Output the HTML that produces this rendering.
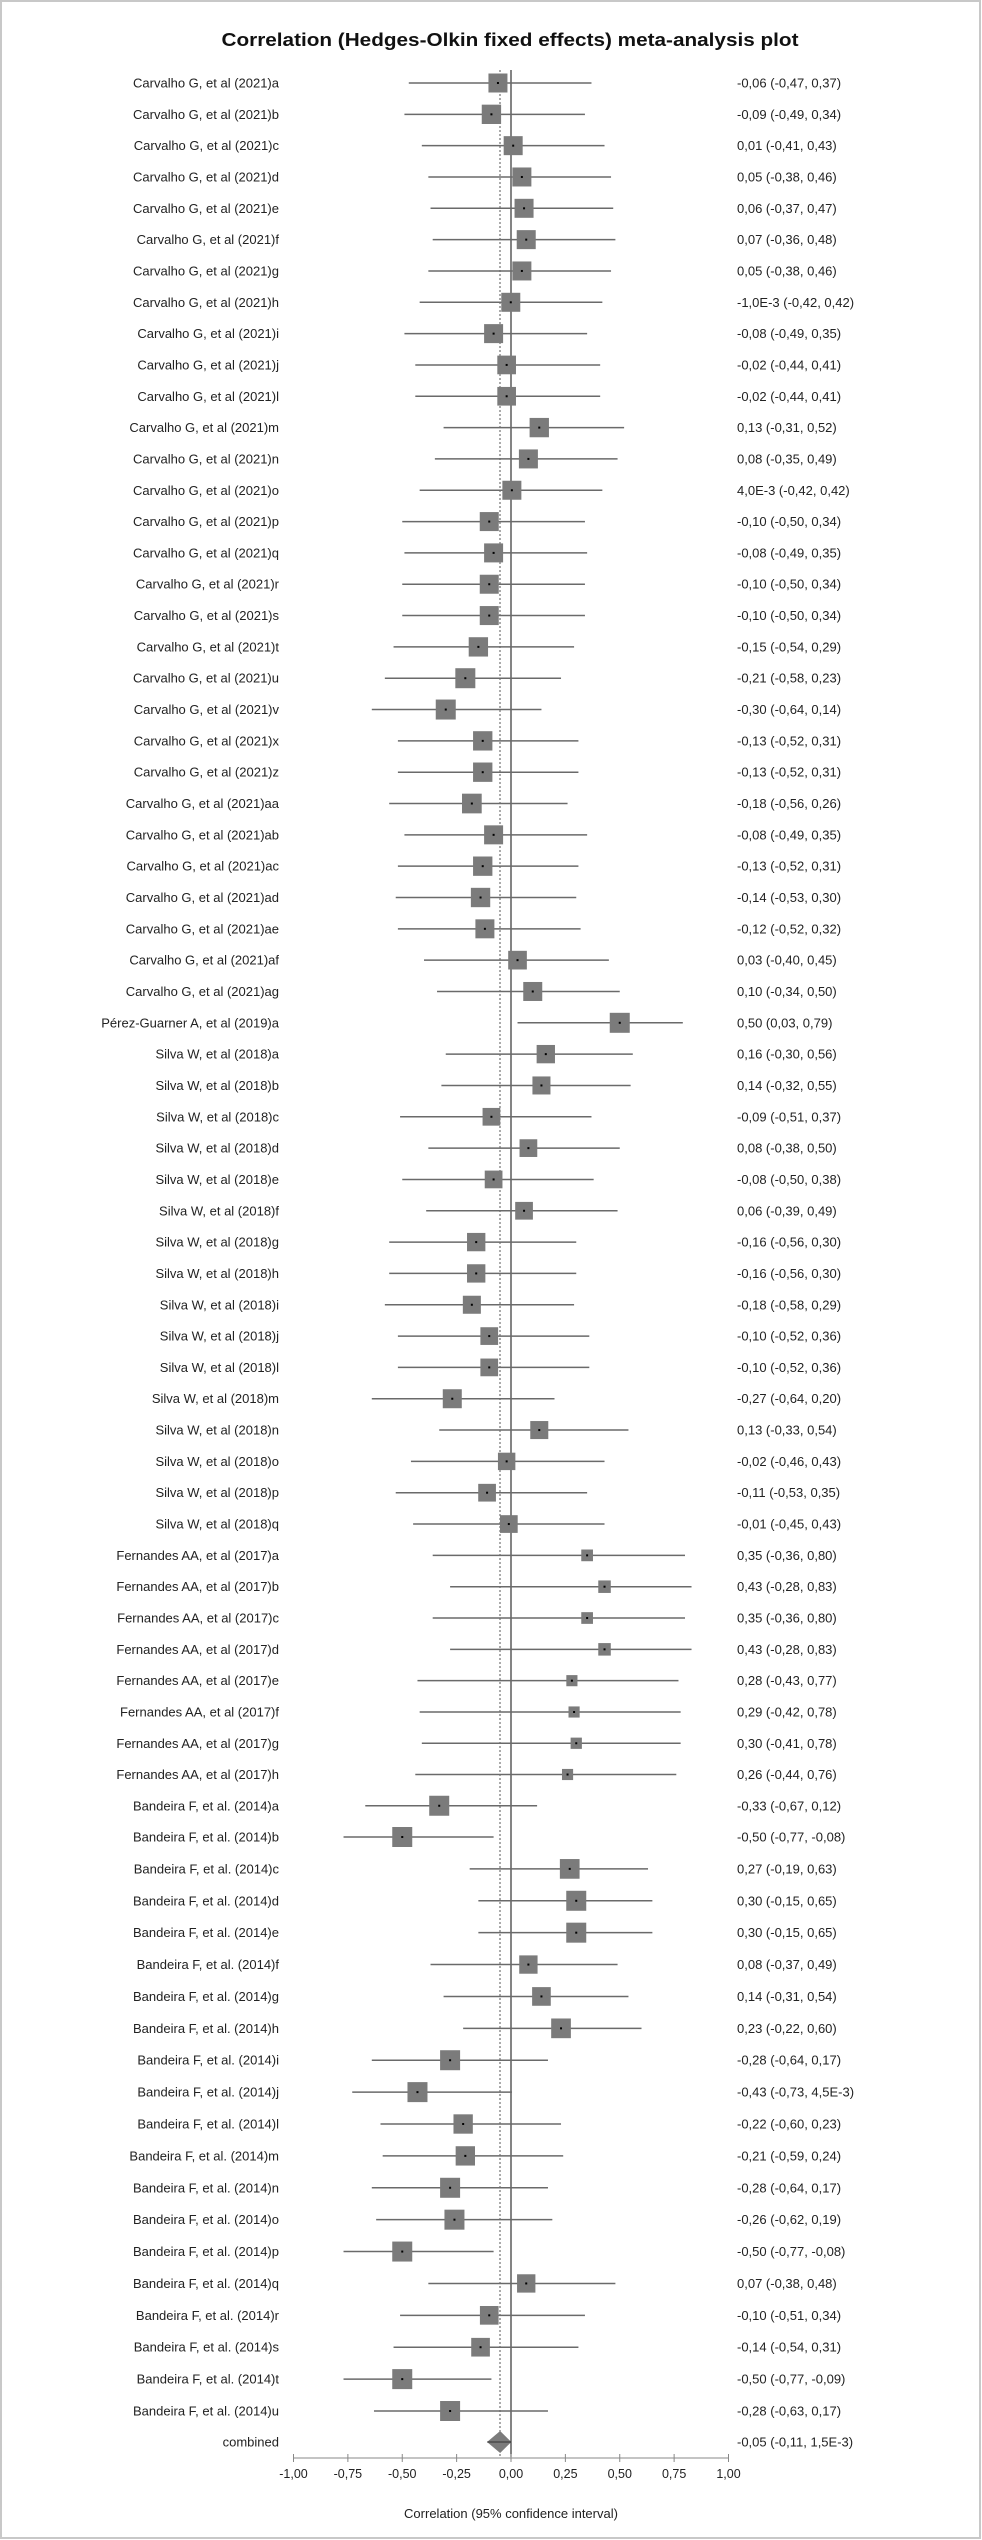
<!DOCTYPE html>
<html><head><meta charset="utf-8"><style>
html,body{margin:0;padding:0;background:#fff}
#c{position:relative;width:982px;height:2540px;overflow:hidden}
svg text{font-family:"Liberation Sans",sans-serif}
</style></head><body><div id="c">
<svg id="s" width="982" height="2540" xmlns="http://www.w3.org/2000/svg">
<rect x="1" y="1" width="979" height="2537" fill="#fff" stroke="#c8c8c8" stroke-width="2"/>
<text x="510" y="46" text-anchor="middle" font-size="18" font-weight="bold" fill="#111" textLength="577" lengthAdjust="spacingAndGlyphs">Correlation (Hedges-Olkin fixed effects) meta-analysis plot</text>
</svg></div>
<script>
var D=[
["Carvalho G, et al (2021)a",-0.06,-0.47,0.37,"-0,06 (-0,47, 0,37)"],
["Carvalho G, et al (2021)b",-0.09,-0.49,0.34,"-0,09 (-0,49, 0,34)"],
["Carvalho G, et al (2021)c",0.01,-0.41,0.43,"0,01 (-0,41, 0,43)"],
["Carvalho G, et al (2021)d",0.05,-0.38,0.46,"0,05 (-0,38, 0,46)"],
["Carvalho G, et al (2021)e",0.06,-0.37,0.47,"0,06 (-0,37, 0,47)"],
["Carvalho G, et al (2021)f",0.07,-0.36,0.48,"0,07 (-0,36, 0,48)"],
["Carvalho G, et al (2021)g",0.05,-0.38,0.46,"0,05 (-0,38, 0,46)"],
["Carvalho G, et al (2021)h",-0.001,-0.42,0.42,"-1,0E-3 (-0,42, 0,42)"],
["Carvalho G, et al (2021)i",-0.08,-0.49,0.35,"-0,08 (-0,49, 0,35)"],
["Carvalho G, et al (2021)j",-0.02,-0.44,0.41,"-0,02 (-0,44, 0,41)"],
["Carvalho G, et al (2021)l",-0.02,-0.44,0.41,"-0,02 (-0,44, 0,41)"],
["Carvalho G, et al (2021)m",0.13,-0.31,0.52,"0,13 (-0,31, 0,52)"],
["Carvalho G, et al (2021)n",0.08,-0.35,0.49,"0,08 (-0,35, 0,49)"],
["Carvalho G, et al (2021)o",0.004,-0.42,0.42,"4,0E-3 (-0,42, 0,42)"],
["Carvalho G, et al (2021)p",-0.10,-0.50,0.34,"-0,10 (-0,50, 0,34)"],
["Carvalho G, et al (2021)q",-0.08,-0.49,0.35,"-0,08 (-0,49, 0,35)"],
["Carvalho G, et al (2021)r",-0.10,-0.50,0.34,"-0,10 (-0,50, 0,34)"],
["Carvalho G, et al (2021)s",-0.10,-0.50,0.34,"-0,10 (-0,50, 0,34)"],
["Carvalho G, et al (2021)t",-0.15,-0.54,0.29,"-0,15 (-0,54, 0,29)"],
["Carvalho G, et al (2021)u",-0.21,-0.58,0.23,"-0,21 (-0,58, 0,23)"],
["Carvalho G, et al (2021)v",-0.30,-0.64,0.14,"-0,30 (-0,64, 0,14)"],
["Carvalho G, et al (2021)x",-0.13,-0.52,0.31,"-0,13 (-0,52, 0,31)"],
["Carvalho G, et al (2021)z",-0.13,-0.52,0.31,"-0,13 (-0,52, 0,31)"],
["Carvalho G, et al (2021)aa",-0.18,-0.56,0.26,"-0,18 (-0,56, 0,26)"],
["Carvalho G, et al (2021)ab",-0.08,-0.49,0.35,"-0,08 (-0,49, 0,35)"],
["Carvalho G, et al (2021)ac",-0.13,-0.52,0.31,"-0,13 (-0,52, 0,31)"],
["Carvalho G, et al (2021)ad",-0.14,-0.53,0.30,"-0,14 (-0,53, 0,30)"],
["Carvalho G, et al (2021)ae",-0.12,-0.52,0.32,"-0,12 (-0,52, 0,32)"],
["Carvalho G, et al (2021)af",0.03,-0.40,0.45,"0,03 (-0,40, 0,45)"],
["Carvalho G, et al (2021)ag",0.10,-0.34,0.50,"0,10 (-0,34, 0,50)"],
["Pérez-Guarner A, et al (2019)a",0.50,0.03,0.79,"0,50 (0,03, 0,79)"],
["Silva W, et al (2018)a",0.16,-0.30,0.56,"0,16 (-0,30, 0,56)"],
["Silva W, et al (2018)b",0.14,-0.32,0.55,"0,14 (-0,32, 0,55)"],
["Silva W, et al (2018)c",-0.09,-0.51,0.37,"-0,09 (-0,51, 0,37)"],
["Silva W, et al (2018)d",0.08,-0.38,0.50,"0,08 (-0,38, 0,50)"],
["Silva W, et al (2018)e",-0.08,-0.50,0.38,"-0,08 (-0,50, 0,38)"],
["Silva W, et al (2018)f",0.06,-0.39,0.49,"0,06 (-0,39, 0,49)"],
["Silva W, et al (2018)g",-0.16,-0.56,0.30,"-0,16 (-0,56, 0,30)"],
["Silva W, et al (2018)h",-0.16,-0.56,0.30,"-0,16 (-0,56, 0,30)"],
["Silva W, et al (2018)i",-0.18,-0.58,0.29,"-0,18 (-0,58, 0,29)"],
["Silva W, et al (2018)j",-0.10,-0.52,0.36,"-0,10 (-0,52, 0,36)"],
["Silva W, et al (2018)l",-0.10,-0.52,0.36,"-0,10 (-0,52, 0,36)"],
["Silva W, et al (2018)m",-0.27,-0.64,0.20,"-0,27 (-0,64, 0,20)"],
["Silva W, et al (2018)n",0.13,-0.33,0.54,"0,13 (-0,33, 0,54)"],
["Silva W, et al (2018)o",-0.02,-0.46,0.43,"-0,02 (-0,46, 0,43)"],
["Silva W, et al (2018)p",-0.11,-0.53,0.35,"-0,11 (-0,53, 0,35)"],
["Silva W, et al (2018)q",-0.01,-0.45,0.43,"-0,01 (-0,45, 0,43)"],
["Fernandes AA, et al (2017)a",0.35,-0.36,0.80,"0,35 (-0,36, 0,80)"],
["Fernandes AA, et al (2017)b",0.43,-0.28,0.83,"0,43 (-0,28, 0,83)"],
["Fernandes AA, et al (2017)c",0.35,-0.36,0.80,"0,35 (-0,36, 0,80)"],
["Fernandes AA, et al (2017)d",0.43,-0.28,0.83,"0,43 (-0,28, 0,83)"],
["Fernandes AA, et al (2017)e",0.28,-0.43,0.77,"0,28 (-0,43, 0,77)"],
["Fernandes AA, et al (2017)f",0.29,-0.42,0.78,"0,29 (-0,42, 0,78)"],
["Fernandes AA, et al (2017)g",0.30,-0.41,0.78,"0,30 (-0,41, 0,78)"],
["Fernandes AA, et al (2017)h",0.26,-0.44,0.76,"0,26 (-0,44, 0,76)"],
["Bandeira F, et al. (2014)a",-0.33,-0.67,0.12,"-0,33 (-0,67, 0,12)"],
["Bandeira F, et al. (2014)b",-0.50,-0.77,-0.08,"-0,50 (-0,77, -0,08)"],
["Bandeira F, et al. (2014)c",0.27,-0.19,0.63,"0,27 (-0,19, 0,63)"],
["Bandeira F, et al. (2014)d",0.30,-0.15,0.65,"0,30 (-0,15, 0,65)"],
["Bandeira F, et al. (2014)e",0.30,-0.15,0.65,"0,30 (-0,15, 0,65)"],
["Bandeira F, et al. (2014)f",0.08,-0.37,0.49,"0,08 (-0,37, 0,49)"],
["Bandeira F, et al. (2014)g",0.14,-0.31,0.54,"0,14 (-0,31, 0,54)"],
["Bandeira F, et al. (2014)h",0.23,-0.22,0.60,"0,23 (-0,22, 0,60)"],
["Bandeira F, et al. (2014)i",-0.28,-0.64,0.17,"-0,28 (-0,64, 0,17)"],
["Bandeira F, et al. (2014)j",-0.43,-0.73,0.0045,"-0,43 (-0,73, 4,5E-3)"],
["Bandeira F, et al. (2014)l",-0.22,-0.60,0.23,"-0,22 (-0,60, 0,23)"],
["Bandeira F, et al. (2014)m",-0.21,-0.59,0.24,"-0,21 (-0,59, 0,24)"],
["Bandeira F, et al. (2014)n",-0.28,-0.64,0.17,"-0,28 (-0,64, 0,17)"],
["Bandeira F, et al. (2014)o",-0.26,-0.62,0.19,"-0,26 (-0,62, 0,19)"],
["Bandeira F, et al. (2014)p",-0.50,-0.77,-0.08,"-0,50 (-0,77, -0,08)"],
["Bandeira F, et al. (2014)q",0.07,-0.38,0.48,"0,07 (-0,38, 0,48)"],
["Bandeira F, et al. (2014)r",-0.10,-0.51,0.34,"-0,10 (-0,51, 0,34)"],
["Bandeira F, et al. (2014)s",-0.14,-0.54,0.31,"-0,14 (-0,54, 0,31)"],
["Bandeira F, et al. (2014)t",-0.50,-0.77,-0.09,"-0,50 (-0,77, -0,09)"],
["Bandeira F, et al. (2014)u",-0.28,-0.63,0.17,"-0,28 (-0,63, 0,17)"]
];
var A=[[0,83],[52,1712],[56,1837],[74,2411],[75,2442]];
function Y(i){for(var k=0;k<A.length-1;k++){var a=A[k],b=A[k+1];if(i<=b[0])return a[1]+(i-a[0])*(b[1]-a[1])/(b[0]-a[0]);}return 2442;}
function X(v){return 511+v*217.5;}
var s='';
// reference lines
s+='<line x1="511" y1="70" x2="511" y2="2457" stroke="#333" stroke-width="1.2"/>';
s+='<line x1="500" y1="70" x2="500" y2="2457" stroke="#555" stroke-width="1" stroke-dasharray="2,2"/>';
D.forEach(function(d,i){
 var y=Y(i);
 s+='<text x="279" y="'+(y+4.5)+'" text-anchor="end" font-size="13" fill="#222">'+d[0]+'</text>';
 s+='<text x="737" y="'+(y+4.5)+'" font-size="13" fill="#222">'+d[4]+'</text>';
 s+='<line x1="'+X(d[2])+'" y1="'+y+'" x2="'+X(d[3])+'" y2="'+y+'" stroke="#6a6a6a" stroke-width="1.5"/>';
 var w=d[3]-d[2];var z=19*Math.pow(0.84/w,1.5);z=Math.max(11,Math.min(20,z));
 s+='<rect x="'+(X(d[1])-z/2)+'" y="'+(y-z/2)+'" width="'+z+'" height="'+z+'" fill="#7b7b7b"/>';
 s+='<rect x="'+(X(d[1])-1)+'" y="'+(y-1)+'" width="2" height="2" fill="#000"/>';
});
var yc=2442;
s+='<text x="279" y="'+(yc+4.5)+'" text-anchor="end" font-size="13" fill="#222">combined</text>';
s+='<text x="737" y="'+(yc+4.5)+'" font-size="13" fill="#222">-0,05 (-0,11, 1,5E-3)</text>';
s+='<polygon points="'+X(-0.11)+','+yc+' '+X(-0.05)+','+(yc-11)+' '+X(0.0015)+','+yc+' '+X(-0.05)+','+(yc+11)+'" fill="#7b7b7b"/>';
s+='<line x1="'+X(-0.11)+'" y1="'+yc+'" x2="'+X(0.0015)+'" y2="'+yc+'" stroke="#333" stroke-width="1"/>';
// axis
s+='<line x1="293" y1="2458" x2="729" y2="2458" stroke="#888" stroke-width="1"/>';
var L=["-1,00","-0,75","-0,50","-0,25","0,00","0,25","0,50","0,75","1,00"];
for(var k=0;k<9;k++){var x=X(-1+k*0.25);
 s+='<line x1="'+x+'" y1="2454" x2="'+x+'" y2="2462" stroke="#888" stroke-width="1"/>';
 s+='<text x="'+x+'" y="2478" text-anchor="middle" font-size="12.5" fill="#222">'+L[k]+'</text>';}
s+='<text x="511" y="2518" text-anchor="middle" font-size="13" fill="#222">Correlation (95% confidence interval)</text>';
document.getElementById('s').insertAdjacentHTML('beforeend',s);
</script>
</body></html>
